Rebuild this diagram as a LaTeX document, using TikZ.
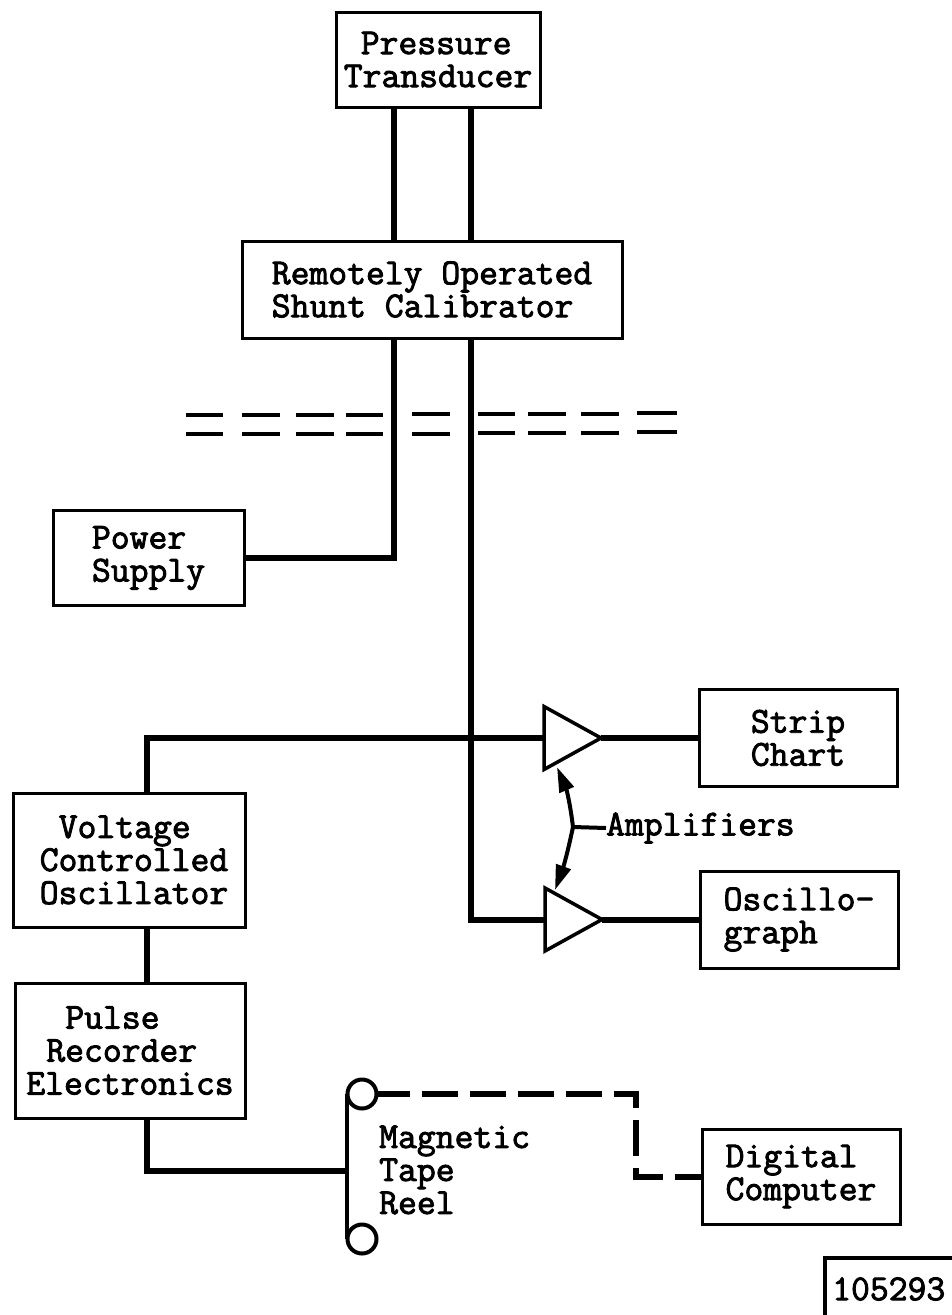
\documentclass[tikz,border=0pt]{standalone}
\usepackage{fontspec}
\usetikzlibrary{arrows.meta,shapes.geometric}
\newfontfamily\typefont{Latin Modern Mono}[FakeBold=2.4]
\newcommand{\labelfont}{\fontsize{36.6}{33}\selectfont\typefont}
\begin{document}
\begin{tikzpicture}[x=1pt,y=-1pt]
    % Style definition for the boxes
    \tikzset{box/.style={rectangle, draw=black, line width=3pt, align=left, inner sep=0pt, font=\labelfont},
             lbl/.style={align=left, inner sep=0pt, font=\labelfont},
             amp/.style={isosceles triangle, isosceles triangle stretches, draw=black, line width=3.5pt,
             shape border rotate=0, minimum width=63pt, minimum height=57pt, inner sep=0pt, outer sep=0pt, anchor=apex},
             reel/.style={circle, draw=black, line width=4pt, minimum size=29pt, inner sep=0pt, outer sep=0pt}}
    \tikzstyle{wire} = [line width=6pt]
    \tikzstyle{thin wire} = [line width=4pt]
    \tikzstyle{arrow} = [line width=4pt,-{Triangle[length=25pt,width=15pt]}]

    \useasboundingbox (0,0) rectangle (952,1315);

    % Main boxes
    \node (trans) [box, minimum width=204pt, minimum height=95pt] at (438,59.5) {\hspace*{17pt}Pressure\\Transducer};
    \node (shunt) [box, minimum width=380pt, minimum height=97pt] at (432,289.5) {Remotely Operated\\Shunt Calibrator};
    \node (supply) [box, minimum width=191pt, minimum height=95pt] at (148.5,558) {Power\\Supply};
    \node (strip) [box, minimum width=198pt, minimum height=97pt] at (798,738) {Strip\\Chart};
    \node (oscillo) [box, minimum width=198pt, minimum height=97pt] at (799,919.5) {Oscillo-\\graph};
    \node (vco) [box, minimum width=232pt, minimum height=134pt] at (129,860) {\hspace*{29pt}Voltage\\\hspace*{10pt}Controlled\\\hspace*{10pt}Oscillator};
    \node (pulse) [box, minimum width=230pt, minimum height=135pt] at (130,1050.5) {\hspace*{39pt}Pulse\\\hspace*{20pt}Recorder\\Electronics};
    \node (digital) [box, minimum width=198pt, minimum height=95pt] at (801,1176.5) {Digital\\Computer};

    % Amplifiers and tape reels
    \node (ampA) [amp] at (601,738) {};
    \node (ampB) [amp] at (602,919.5) {};
    \node (reelA) [reel] at (362,1094) {};
    \node (reelB) [reel] at (362,1239) {};

    % Free labels
    \node (amptext) [lbl, anchor=west] at (606,828) {Amplifiers};
    \node (tapetext) [lbl, anchor=west] at (379,1170) {Magnetic\\Tape\\Reel};
    \node (tagtext) [lbl, anchor=west] at (832,1289) {105293};

    % Helper coordinates
    \coordinate (lineA) at (394,0);
    \coordinate (lineB) at (471,0);
    \coordinate (lineC) at (147,0);
    \coordinate (lineD) at (636,0);
    \coordinate (brace) at (573,827);
    \coordinate (tipA) at (557,767);
    \coordinate (tipB) at (555,890);
    \coordinate (spine) at (347,1171);
    \coordinate (spineA) at (347,1094);
    \coordinate (spineB) at (347,1239);

    % Connections
    \draw [wire] (trans.south -| lineA) -- (shunt.north -| lineA);
    \draw [wire] (trans.south -| lineB) -- (shunt.north -| lineB);
    \draw [wire] (shunt.south -| lineA) |- (supply.east);
    \draw [wire] (shunt.south -| lineB) |- (ampB.west);
    \draw [wire] (vco.north -| lineC) |- (ampA.west);
    \draw [wire] (ampA.apex) -- (strip.west);
    \draw [wire] (ampB.apex) -- (oscillo.west);
    \draw [wire] (vco.south -| lineC) -- (pulse.north -| lineC);
    \draw [wire] (pulse.south -| lineC) |- (spine);
    \draw [thin wire] (spineA) -- (spineB);
    \draw [wire, dash pattern=on 36pt off 12pt, dash phase=3pt] (reelA.east) -| (lineD |- digital.west) -- (digital.west);

    % Pointers to the amplifiers
    \draw [arrow] (brace) to[bend right=8] (tipA);
    \draw [arrow] (brace) to[bend left=4] (tipB);
    \draw [thin wire] (brace) -- (amptext.west);

    % Break in the lines
    \foreach \xa/\xb/\ya/\yb in {186/223/414.5/433.5,242/280/414.5/433.5,296/334/414.5/433.5,346/383/414.5/433.5,412/450/414/433.5,
                                 478/515/414/433,528/566/413.5/433,581/619/413.5/433,637/677/413/432} {
        \draw [thin wire] (\xa,\ya) -- (\xb,\ya);
        \draw [thin wire] (\xa,\yb) -- (\xb,\yb);
    }

    % Number tag
    \draw [thin wire] (825,1315) -- (825,1258) -- (952,1258);
\end{tikzpicture}
\end{document}
